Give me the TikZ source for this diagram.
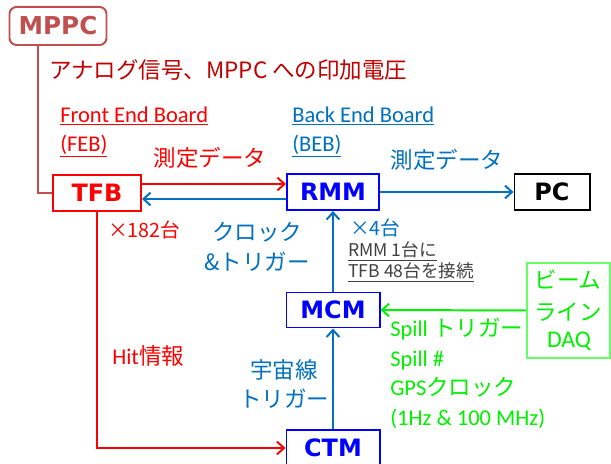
\documentclass[tikz,border=0pt]{standalone}
\usepackage{fontspec}
\setmainfont{Carlito}
\newfontfamily\jp{Noto Sans CJK JP}
\newfontfamily\bx{DejaVu Sans}
\usetikzlibrary{arrows.meta}
\definecolor{mppcred}{HTML}{C0504D}
\definecolor{darkred}{HTML}{C00000}
\definecolor{febred}{HTML}{FF0000}
\definecolor{bebblue}{HTML}{0070C0}
\definecolor{boxblue}{HTML}{0000FF}
\definecolor{daqgreen}{HTML}{00F000}
\definecolor{daqframe}{HTML}{66FF66}
\definecolor{notegray}{HTML}{404040}

\begin{document}
\begin{tikzpicture}[x=0.025cm, y=0.025cm,
  board/.style={draw, line width=1.4pt, fill=white, inner sep=0pt,
    minimum height=0.9cm, font=\bx\bfseries\fontsize{17}{18}\selectfont},
  arr/.style={line width=1.4pt, -{Straight Barb[length=5pt,width=9pt]}},
  lbl/.style={inner sep=0pt, font=\jp\fontsize{16}{21}\selectfont}]
\useasboundingbox (0,0) rectangle (611,464);
\clip (0,0) rectangle (611,464);

% boards
\node[board, draw=mppcred, text=mppcred, rounded corners=5pt, minimum width=2.425cm,
  minimum height=0.95cm, font=\bx\bfseries\fontsize{17.5}{18}\selectfont] (mppc) at (58,438) {MPPC};
\node[board, draw=febred, text=febred, minimum width=2.2cm] (tfb) at (97,271) {TFB};
\node[board, draw=boxblue, text=boxblue, minimum width=2.3cm] (rmm) at (333,272) {RMM};
\node[board, draw=black, text=black, minimum width=1.875cm] (pc) at (552,272) {PC};
\node[board, draw=boxblue, text=boxblue, minimum width=2.325cm, minimum height=0.875cm] (mcm) at (333,154) {MCM};
\node[board, draw=boxblue, text=boxblue, minimum width=2.325cm] (ctm) at (333,16) {CTM};
\node[board, draw=daqframe, line width=0.8pt, minimum width=2.075cm,
  minimum height=2.375cm] (daq) at (568.5,153.5) {};
\node[lbl, text=daqgreen] (daq1) at (568,184) {ビーム};
\node[lbl, text=daqgreen] (daq2) at (568,152) {ライン};
\node[lbl, text=daqgreen, font=\fontsize{17}{21}\selectfont] (daq3) at (569,123) {DAQ};

% connectors
\draw[mppcred, line width=1.4pt] (mppc.south) ++(-20,0) |- (tfb.west);
\draw[arr, febred] (tfb.east |- 0,280) -- (rmm.west |- 0,280);
\draw[arr, bebblue] (rmm.west |- 0,265) -- (tfb.east |- 0,265);
\draw[arr, bebblue] (rmm.east) -- (pc.west);
\draw[arr, bebblue] (mcm.north) -- (rmm.south);
\draw[arr, bebblue] (ctm.north) -- (mcm.south);
\draw[arr, daqgreen] (daq.west) -- (mcm.east);
\draw[arr, febred] (tfb.south) |- (ctm.west);

% texts
\node[lbl, anchor=west, text=darkred] (sig) at (49,394) {アナログ信号、MPPC への印加電圧};
\node[lbl, anchor=west, text=febred, align=left, font=\fontsize{16}{21}\selectfont] (feb) at (60,332)
  {\underline{Front End Board}\\\underline{(FEB)}};
\node[lbl, anchor=west, text=bebblue, align=left, font=\fontsize{16}{21}\selectfont] (beb) at (292,332)
  {\underline{Back End Board}\\\underline{(BEB)}};
\node[lbl, text=febred] (data1) at (210,306) {測定データ};
\node[lbl, text=bebblue] (data2) at (447,304) {測定データ};
\node[lbl, anchor=west, text=febred, font=\jp\fontsize{14}{21}\selectfont] (n182) at (108,234) {×182台};
\node[lbl, text=bebblue, align=center] (clk) at (257,217) {クロック\\\&トリガー};
\node[lbl, anchor=west, text=bebblue, font=\jp\fontsize{14}{21}\selectfont] (n4) at (350,236) {×4台};
\node[lbl, anchor=west, text=notegray, align=left, font=\jp\fontsize{12.5}{15}\selectfont] (note) at (348,202)
  {\underline{RMM\ 1台に}\\\underline{TFB 48台を接続}};
\node[lbl, anchor=west, text=febred, font=\fontsize{16}{21}\selectfont] (hit) at (112,108) {Hit{\jp 情報}};
\node[lbl, text=bebblue, align=center] (cos) at (284,80) {宇宙線\\トリガー};
\node[lbl, anchor=north west, text=daqgreen, align=left, font=\fontsize{16}{21}\selectfont] (spill) at (390,146)
  {Spill {\jp トリガー}\\Spill \#\\GPS{\jp クロック}\\(1Hz \& 100 MHz)};
\end{tikzpicture}
\end{document}
